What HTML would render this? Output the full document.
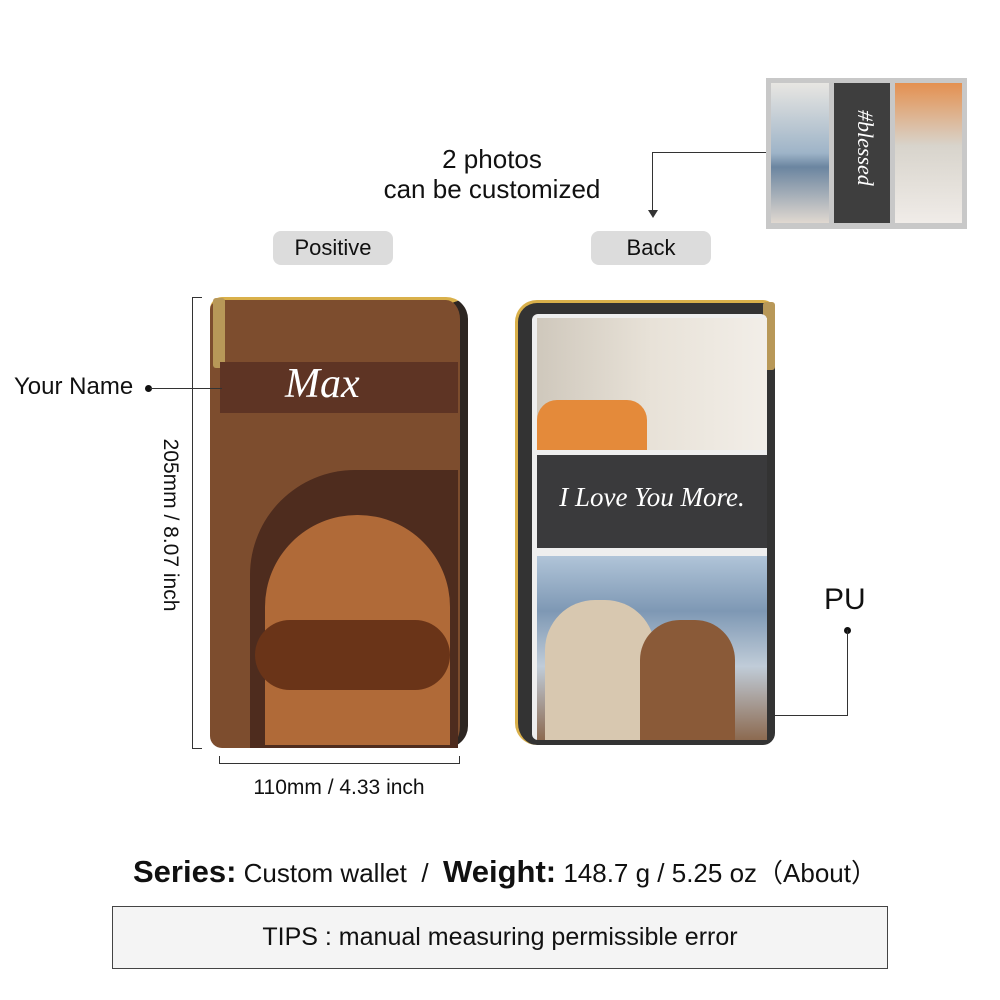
<!DOCTYPE html>
<html><head><meta charset="utf-8"><style>
*{margin:0;padding:0;box-sizing:border-box}
body{width:1000px;height:1000px;background:#fff;position:relative;overflow:hidden;font-family:"Liberation Sans",sans-serif;color:#111}
.a{position:absolute}
.pill{position:absolute;background:#dcdcdc;border-radius:8px;font-size:22px;text-align:center;line-height:34px;height:34px;width:120px}
.script{font-family:"Liberation Serif",serif;font-style:italic;color:#fff}
</style></head><body>

<div class="a" style="left:766px;top:78px;width:201px;height:151px;background:#c8c8c8"></div>
<div class="a" style="left:771px;top:83px;width:58px;height:140px;background:linear-gradient(#e8e6e2,#9eb4c8 50%,#6b85a0 60%,#e0d8d0)"></div>
<div class="a" style="left:834px;top:83px;width:56px;height:140px;background:#3e3e3e"></div>
<div class="a script" style="top:110px;font-size:22px;transform:rotate(90deg);transform-origin:left top;left:878px">#blessed</div>
<div class="a" style="left:895px;top:83px;width:67px;height:140px;background:linear-gradient(#e49050,#d8d4cc 45%,#f0ece8)"></div>

<div class="a" style="left:652px;top:152px;width:114px;height:1px;background:#333"></div>
<div class="a" style="left:652px;top:152px;width:1px;height:60px;background:#333"></div>
<div class="a" style="left:648px;top:210px;width:0;height:0;border-left:5px solid transparent;border-right:5px solid transparent;border-top:8px solid #333"></div>

<div class="a" style="left:372px;top:144px;width:240px;text-align:center;font-size:26px;line-height:30px">2 photos<br>can be customized</div>

<div class="pill" style="left:273px;top:231px">Positive</div>
<div class="pill" style="left:591px;top:231px">Back</div>

<div class="a" style="left:210px;top:297px;width:258px;height:451px;background:#7d4d2e;border-radius:12px 22px 22px 12px;border-right:8px solid #2d2622;border-top:3px solid #d9b04a"></div>
<div class="a" style="left:213px;top:298px;width:12px;height:70px;background:#b89858;border-radius:3px"></div>
<div class="a" style="left:220px;top:362px;width:238px;height:51px;background:#5e3424"></div>
<div class="a script" style="left:285px;top:360px;font-size:42px">Max</div>
<div class="a" style="left:250px;top:470px;width:208px;height:278px;background:#4e2c1e;border-radius:105px 0 0 0"></div>
<div class="a" style="left:265px;top:515px;width:185px;height:230px;background:#b06a38;border-radius:92px 92px 0 0"></div>
<div class="a" style="left:255px;top:620px;width:195px;height:70px;background:#6a3418;border-radius:40px"></div>

<div class="a" style="left:192px;top:297px;width:1px;height:451px;background:#333"></div>
<div class="a" style="left:192px;top:297px;width:10px;height:1px;background:#333"></div>
<div class="a" style="left:192px;top:748px;width:10px;height:1px;background:#333"></div>
<div class="a" style="left:50px;top:513px;width:240px;text-align:center;font-size:21px;transform:rotate(90deg);transform-origin:center">205mm / 8.07 inch</div>
<div class="a" style="left:219px;top:763px;width:240px;height:1px;background:#333"></div>
<div class="a" style="left:219px;top:756px;width:1px;height:8px;background:#333"></div>
<div class="a" style="left:459px;top:756px;width:1px;height:8px;background:#333"></div>
<div class="a" style="left:219px;top:776px;width:240px;text-align:center;font-size:21px">110mm / 4.33 inch</div>

<div class="a" style="left:14px;top:373px;font-size:24px">Your Name</div>
<div class="a" style="left:145px;top:385px;width:7px;height:7px;border-radius:50%;background:#111"></div>
<div class="a" style="left:150px;top:388px;width:72px;height:1px;background:#333"></div>

<div class="a" style="left:515px;top:300px;width:260px;height:445px;background:#333;border-radius:22px 12px 12px 22px;border-left:3px solid #d9b04a;border-top:3px solid #d9b04a"></div>
<div class="a" style="left:763px;top:302px;width:12px;height:68px;background:#b89858;border-radius:3px"></div>
<div class="a" style="left:532px;top:314px;width:235px;height:426px;background:#eee;border-radius:6px"></div>
<div class="a" style="left:537px;top:318px;width:230px;height:132px;background:linear-gradient(90deg,#cfc8bc,#e8e2d8 50%,#f2eee8);"></div>
<div class="a" style="left:537px;top:400px;width:110px;height:50px;background:#e48a3a;border-radius:20px 20px 0 0"></div>
<div class="a" style="left:537px;top:455px;width:230px;height:93px;background:#3a3a3c"></div>
<div class="a script" style="left:537px;top:482px;width:230px;text-align:center;font-size:27px">I Love You More.</div>
<div class="a" style="left:537px;top:556px;width:230px;height:184px;background:linear-gradient(#b0c4d8,#7e98b4 30%,#c0ccd8 60%,#8c6a50)"></div>
<div class="a" style="left:545px;top:600px;width:110px;height:140px;background:#d8c8b0;border-radius:50px 50px 0 0"></div>
<div class="a" style="left:640px;top:620px;width:95px;height:120px;background:#8a5a38;border-radius:40px 40px 0 0"></div>

<div class="a" style="left:824px;top:583px;font-size:30px">PU</div>
<div class="a" style="left:844px;top:627px;width:7px;height:7px;border-radius:50%;background:#111"></div>
<div class="a" style="left:847px;top:630px;width:1px;height:85px;background:#333"></div>
<div class="a" style="left:770px;top:715px;width:78px;height:1px;background:#333"></div>

<div class="a" style="left:133px;top:853px;font-size:26px;white-space:nowrap"><b style="font-size:31px">Series:</b> Custom wallet &nbsp;/ &nbsp;<b style="font-size:31px">Weight:</b> 148.7 g / 5.25 oz（About）</div>

<div class="a" style="left:112px;top:906px;width:776px;height:63px;border:1px solid #444;background:#f4f4f4;text-align:center;line-height:61px;font-size:25px">TIPS : manual measuring permissible error</div>
</body></html>
